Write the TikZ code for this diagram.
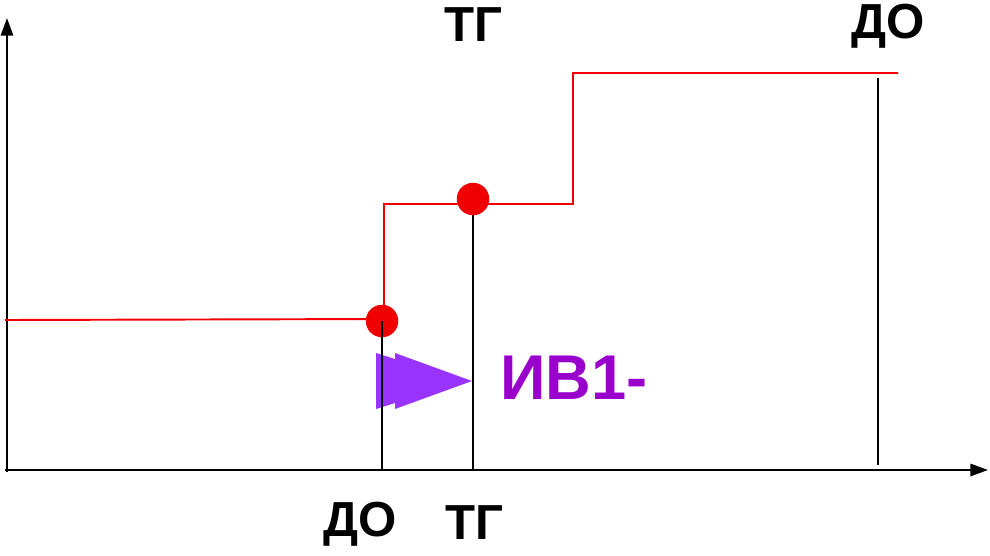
\documentclass[tikz,border=0pt]{standalone}
\usepackage{fontspec}
\setmainfont{Liberation Sans}
\usetikzlibrary{arrows.meta}
\definecolor{stepred}{RGB}{240,0,0}
\definecolor{arrowviolet}{RGB}{153,51,255}
\definecolor{textviolet}{RGB}{153,0,204}
\tikzset{
  axis/.style={line width=1.2pt,-{Triangle[length=10pt,width=7pt]}},
  level/.style={stepred,line width=1.1pt},
  mark line/.style={black,line width=1.2pt},
  event/.style={circle,fill=stepred,inner sep=0pt,minimum size=18.5pt},
  tag/.style={font=\fontsize{28}{30}\selectfont\bfseries}
}
\begin{document}
\begin{tikzpicture}[x=0.02cm,y=-0.02cm]
\useasboundingbox (0,0) rectangle (990,555);
% axes
\draw[axis] (7,472) -- (7,18);
\draw[axis] (5,470) -- (988,470);
% shift arrow
\fill[arrowviolet] (376,353) -- (395,359) -- (395,353) -- (472,381) -- (395,409) -- (395,403) -- (376,409) -- cycle;
\node[font=\fontsize{36}{38}\selectfont\bfseries,text=textviolet,anchor=west] (shift) at (494,378) {ИВ1-};
% step line
\draw[level] (5,320) -- (384,319) -- (384,204) -- (573,204) -- (573,73) -- (898,73);
% event points
\draw[mark line] (473,210) -- (473,470);
\node[event] (tg1) at (473,199) {};
\node[event] (do1) at (382,321) {};
\draw[mark line] (do1.center) -- (382,470);
\draw[mark line] (878,78) -- (878,465);
% labels
\node[tag] (tgtop) at (473,25) {ТГ};
\node[tag] (dotop) at (888,26) {ДО};
\node[tag] (dobot) at (360,524) {ДО};
\node[tag] (tgbot) at (474,523) {ТГ};
\end{tikzpicture}
\end{document}
